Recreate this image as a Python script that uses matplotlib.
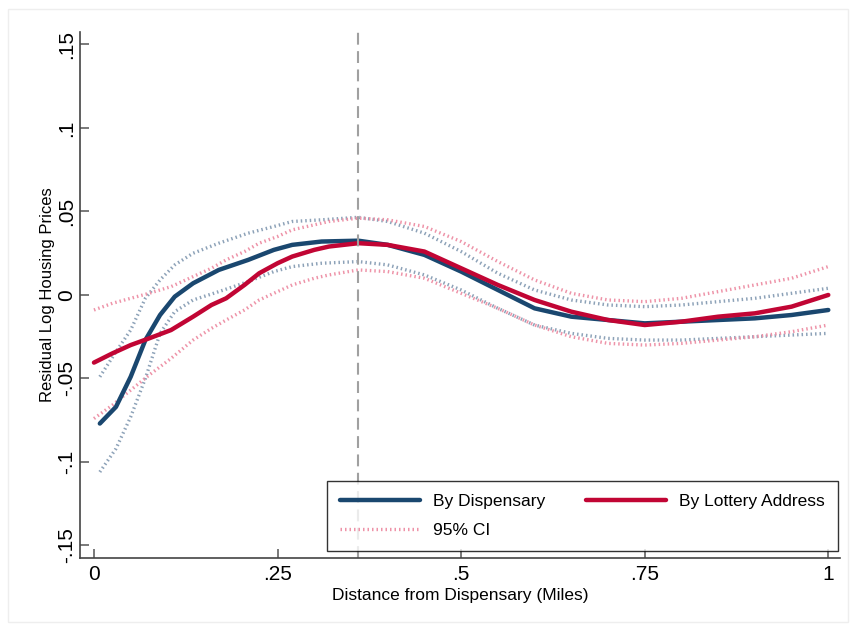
import numpy as np
import matplotlib
matplotlib.use("Agg")
import matplotlib.pyplot as plt
from matplotlib.patches import Rectangle

plt.rcParams['font.family'] = ['Liberation Sans', 'DejaVu Sans']

# by dispensary (estimate + 95% CI)
disp_x = [0.008, 0.03, 0.05, 0.07, 0.09, 0.11, 0.135, 0.17, 0.21, 0.245, 0.27, 0.31, 0.36,
          0.40, 0.45, 0.50, 0.55, 0.60, 0.65, 0.70, 0.75, 0.80, 0.85, 0.90, 0.95, 1.0]
disp_y = [-0.077, -0.067, -0.049, -0.027, -0.012, -0.001, 0.007, 0.015, 0.021, 0.027, 0.030, 0.032, 0.0325,
          0.030, 0.024, 0.014, 0.003, -0.008, -0.013, -0.015, -0.017, -0.016, -0.015, -0.014, -0.012, -0.009]
disp_hi = [-0.049, -0.034, -0.021, -0.002, 0.009, 0.018, 0.025, 0.031, 0.037, 0.041, 0.044, 0.045, 0.0465,
           0.044, 0.037, 0.026, 0.013, 0.003, -0.003, -0.006, -0.007, -0.006, -0.004, -0.002, 0.001, 0.004]
disp_lo = [-0.106, -0.092, -0.073, -0.050, -0.023, -0.010, -0.003, 0.002, 0.008, 0.014, 0.017, 0.019, 0.020,
           0.018, 0.012, 0.003, -0.008, -0.018, -0.023, -0.026, -0.027, -0.027, -0.026, -0.025, -0.024, -0.023]

# by lottery address (estimate + 95% CI)
lot_x = [0.0, 0.025, 0.05, 0.075, 0.105, 0.135, 0.16, 0.18, 0.205, 0.225, 0.25, 0.27, 0.30, 0.32,
         0.36, 0.40, 0.45, 0.50, 0.55, 0.60, 0.65, 0.70, 0.75, 0.80, 0.85, 0.90, 0.95, 1.0]
lot_y = [-0.0405, -0.035, -0.030, -0.026, -0.021, -0.013, -0.006, -0.002, 0.006, 0.013, 0.019, 0.023, 0.027, 0.029,
         0.031, 0.030, 0.026, 0.016, 0.006, -0.003, -0.010, -0.015, -0.018, -0.016, -0.013, -0.011, -0.007, 0.000]
lot_hi = [-0.009, -0.005, -0.002, 0.001, 0.005, 0.011, 0.016, 0.021, 0.026, 0.031, 0.035, 0.039, 0.042, 0.044,
          0.046, 0.045, 0.041, 0.032, 0.020, 0.009, 0.001, -0.003, -0.004, -0.002, 0.002, 0.006, 0.010, 0.017]
lot_lo = [-0.074, -0.066, -0.057, -0.048, -0.038, -0.027, -0.020, -0.015, -0.009, -0.003, 0.002, 0.006, 0.010, 0.012,
          0.015, 0.014, 0.010, 0.001, -0.008, -0.018, -0.025, -0.029, -0.030, -0.029, -0.027, -0.025, -0.022, -0.018]

cutoff = 0.36

xticks = [0, 0.25, 0.5, 0.75, 1]
xtick_labels = ['0', '.25', '.5', '.75', '1']
yticks = [-0.15, -0.1, -0.05, 0, 0.05, 0.1, 0.15]
ytick_labels = ['-.15', '-.1', '-.05', '0', '.05', '.1', '.15']

navy = '#1a476f'
red = '#c10534'
navy_ci = '#8da2b8'
red_ci = '#ee93a8'
dots = (0, (0.45, 0.9))

fig = plt.figure(figsize=(8.53, 6.24), dpi=100)
fig.patches.append(Rectangle((0.009, 0.004), 0.985, 0.982, transform=fig.transFigure,
                             fill=False, edgecolor='#eeeeee', linewidth=1))
ax = fig.add_axes([0.0938, 0.1058, 0.891, 0.843])

ax.plot(disp_x, disp_hi, color=navy_ci, lw=2.4, linestyle=dots)
ax.plot(disp_x, disp_lo, color=navy_ci, lw=2.4, linestyle=dots)
ax.plot(lot_x, lot_hi, color=red_ci, lw=2.4, linestyle=dots, label='95% CI')
ax.plot(lot_x, lot_lo, color=red_ci, lw=2.4, linestyle=dots)
ax.plot(disp_x, disp_y, color=navy, lw=3.2, label='By Dispensary', solid_capstyle='round')
ax.plot(lot_x, lot_y, color=red, lw=3.2, label='By Lottery Address', solid_capstyle='round')
ax.axvline(cutoff, color='#a0a0a0', lw=1.5, linestyle=(0, (5.7, 3.1)))

ax.set_xlim(-0.019, 1.016)
ax.set_ylim(-0.1575, 0.1575)
ax.set_xticks(xticks)
ax.set_xticklabels(xtick_labels)
ax.set_yticks(yticks)
ax.set_yticklabels(ytick_labels, rotation=90, va='center')
ax.tick_params(direction='in', length=6.5, width=1.1, color='#555555', labelsize=15, pad=5)
ax.tick_params(axis='y', pad=3)

for s in ['top', 'right']:
    ax.spines[s].set_visible(False)
for s in ['left', 'bottom']:
    ax.spines[s].set_color('#444444')
    ax.spines[s].set_linewidth(1.2)

ax.set_xlabel('Distance from Dispensary (Miles)', fontsize=12.5, labelpad=3)
ax.set_ylabel('Residual Log Housing Prices', fontsize=12, labelpad=1)

h, l = ax.get_legend_handles_labels()
order = [1, 0, 2]
leg = ax.legend([h[i] for i in order], [l[i] for i in order], ncol=2, loc='lower right',
                bbox_to_anchor=(0.9974, 0.0133), borderaxespad=0, fontsize=12.5, frameon=True,
                fancybox=False, edgecolor='black', handlelength=4.65, handletextpad=0.75,
                columnspacing=2.3, borderpad=0.75, labelspacing=0.8)
leg.get_frame().set_linewidth(1.0)

fig.savefig('out.png', dpi=100)
